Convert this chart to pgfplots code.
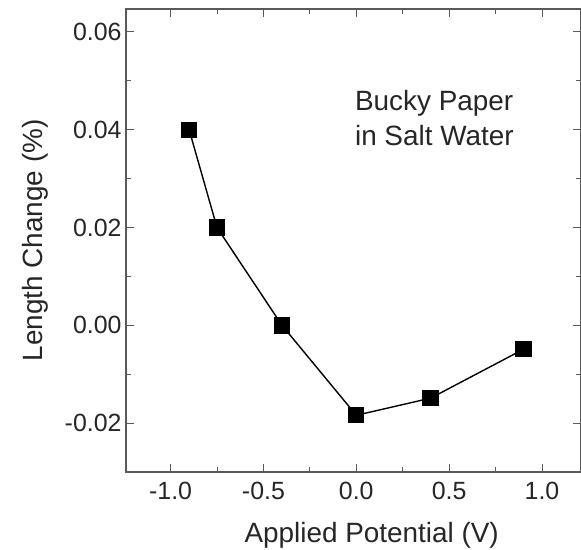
\documentclass[border=0pt]{standalone}
\usepackage{pgfplots}
\pgfplotsset{compat=1.18}
\usepackage{fontspec}
\setmainfont{Liberation Sans}

\begin{document}
\begin{tikzpicture}[x=1bp,y=1bp]
\useasboundingbox (-126bp,-78bp) rectangle (455bp,472bp);
\begin{axis}[
    at={(0,0)}, anchor=south west,
    scale only axis,
    width=455bp, height=463bp,
    xmin=-1.24, xmax=1.21,
    ymin=-0.030, ymax=0.0647,
    xtick={-1,-0.5,0,0.5,1},
    ytick={-0.02,0,0.02,0.04,0.06},
    minor x tick num=1,
    minor y tick num=1,
    tick align=inside,
    major tick length=8bp,
    minor tick length=5bp,
    scaled y ticks=false,
    axis line style={black!65, line width=1.2bp},
    every tick/.style={black!65, line width=1bp},
    xticklabel style={/pgf/number format/fixed, /pgf/number format/fixed zerofill,
                      /pgf/number format/precision=1, yshift=-7bp},
    yticklabel style={/pgf/number format/fixed, /pgf/number format/fixed zerofill,
                      /pgf/number format/precision=2, xshift=-1bp},
    /pgf/number format/assume math mode=true,
    tick label style={font=\fontsize{25}{30}\selectfont, text=black!85},
    label style={font=\fontsize{28}{33}\selectfont, text=black!85},
    xlabel={Applied Potential (V)},
    ylabel={Length Change (\%)},
    xlabel style={at={(axis description cs:0.54,-0.136)}, anchor=center},
    ylabel style={at={(axis description cs:-0.2,0.5)}, anchor=center},
]
\addplot[black, line width=1.4bp, mark=square*, mark size=7.5bp,
         mark options={solid, fill=black}]
  coordinates {
    (-0.9, 0.040)
    (-0.75, 0.020)
    (-0.4, 0.000)
    (0.0, -0.0184)
    (0.4, -0.0149)
    (0.9, -0.0049)
  };
\node[anchor=north west, inner sep=0pt, align=left,
      font=\fontsize{28}{35}\selectfont, text=black!85]
  at (axis description cs:0.503,0.825) {Bucky Paper\\in Salt Water};
\end{axis}
\end{tikzpicture}
\end{document}
